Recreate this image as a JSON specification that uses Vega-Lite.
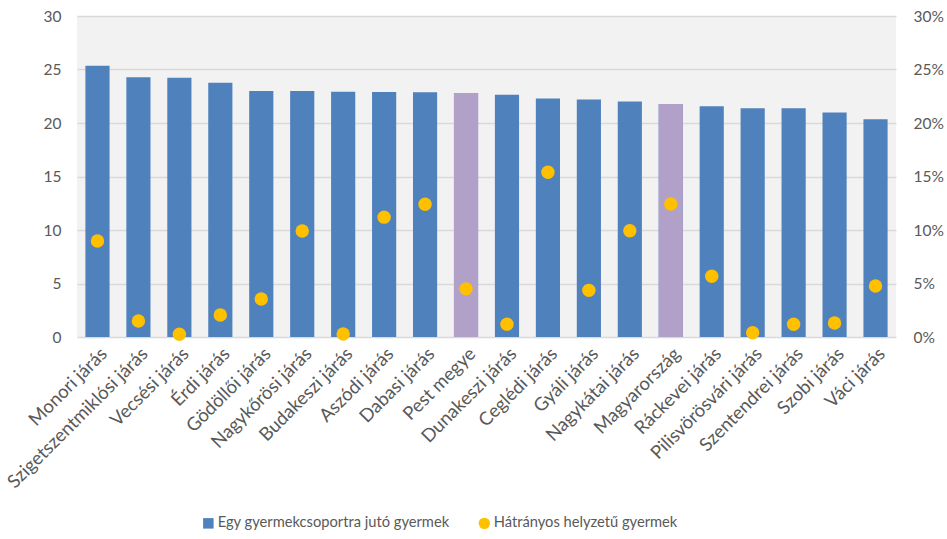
{
  "$schema": "https://vega.github.io/schema/vega-lite/v6.json",
  "width": 819,
  "height": 321,
  "autosize": "none",
  "padding": {"left": 77, "top": 16, "right": 51, "bottom": 202},
  "background": "white",
  "config": {
    "view": {"fill": "#F2F2F2", "stroke": null},
    "font": "Lato",
    "axis": {"labelFont": "Lato", "labelFontSize": 15.5, "labelColor": "#595959", "domain": false, "ticks": false, "gridColor": "#D9D9D9", "gridWidth": 1.3},
    "legend": {"labelFont": "Lato", "labelFontSize": 14.7, "labelColor": "#595959", "labelLimit": 400}
  },
  "data": {
    "values": [
      {"name": "Monori járás", "avg": 25.35, "pct": 0.0897, "type": "jaras"},
      {"name": "Szigetszentmiklósi járás", "avg": 24.27, "pct": 0.015, "type": "jaras"},
      {"name": "Vecsési járás", "avg": 24.24, "pct": 0.0025, "type": "jaras"},
      {"name": "Érdi járás", "avg": 23.77, "pct": 0.0206, "type": "jaras"},
      {"name": "Gödöllői járás", "avg": 22.99, "pct": 0.0355, "type": "jaras"},
      {"name": "Nagykőrösi járás", "avg": 22.98, "pct": 0.099, "type": "jaras"},
      {"name": "Budakeszi járás", "avg": 22.93, "pct": 0.0028, "type": "jaras"},
      {"name": "Aszódi járás", "avg": 22.9, "pct": 0.112, "type": "jaras"},
      {"name": "Dabasi járás", "avg": 22.87, "pct": 0.124, "type": "jaras"},
      {"name": "Pest megye", "avg": 22.8, "pct": 0.045, "type": "total"},
      {"name": "Dunakeszi járás", "avg": 22.65, "pct": 0.012, "type": "jaras"},
      {"name": "Ceglédi járás", "avg": 22.3, "pct": 0.154, "type": "jaras"},
      {"name": "Gyáli járás", "avg": 22.2, "pct": 0.0436, "type": "jaras"},
      {"name": "Nagykátai járás", "avg": 22.0, "pct": 0.0993, "type": "jaras"},
      {"name": "Magyarország", "avg": 21.78, "pct": 0.1243, "type": "total"},
      {"name": "Ráckevei járás", "avg": 21.56, "pct": 0.0567, "type": "jaras"},
      {"name": "Pilisvörösvári járás", "avg": 21.37, "pct": 0.004, "type": "jaras"},
      {"name": "Szentendrei járás", "avg": 21.37, "pct": 0.0119, "type": "jaras"},
      {"name": "Szobi járás", "avg": 20.97, "pct": 0.0131, "type": "jaras"},
      {"name": "Váci járás", "avg": 20.35, "pct": 0.0477, "type": "jaras"}
    ]
  },
  "encoding": {
    "x": {
      "field": "name", "type": "nominal", "sort": null,
      "scale": {"paddingInner": 0.41, "paddingOuter": 0.205},
      "axis": {"title": null, "labelAngle": -45, "labelPadding": 7, "grid": false, "labelLimit": 300, "labelFontSize": 18.5}
    }
  },
  "layer": [
    {
      "mark": {"type": "bar"},
      "encoding": {
        "y": {
          "field": "avg", "type": "quantitative",
          "scale": {"domain": [0, 30]},
          "axis": {"values": [0, 5, 10, 15, 20, 25, 30], "title": null, "labelPadding": 16, "grid": true}
        },
        "color": {
          "datum": "Egy gyermekcsoportra jutó gyermek", "type": "nominal",
          "scale": {"range": ["#4F81BD"]},
          "legend": {"title": null, "orient": "none", "legendX": 124, "legendY": 500, "symbolSize": 110, "symbolType": "square", "labelOffset": 2}
        }
      }
    },
    {
      "transform": [{"filter": "datum.type === 'total'"}],
      "mark": {"type": "bar", "color": "#B1A0C7"},
      "encoding": {
        "y": {"field": "avg", "type": "quantitative", "scale": {"domain": [0, 30]}, "axis": null}
      }
    },
    {
      "mark": {"type": "point", "filled": true, "size": 180, "opacity": 1, "shape": "circle"},
      "encoding": {
        "y": {
          "field": "pct", "type": "quantitative",
          "scale": {"domain": [0, 0.3]},
          "axis": {"orient": "right", "format": ".0%", "values": [0, 0.05, 0.1, 0.15, 0.2, 0.25, 0.3], "grid": false, "title": null, "labelPadding": 17}
        },
        "fill": {
          "datum": "Hátrányos helyzetű gyermek", "type": "nominal",
          "scale": {"range": ["#FFC000"]},
          "legend": {"title": null, "orient": "none", "legendX": 400, "legendY": 500, "symbolSize": 130, "symbolType": "circle", "labelOffset": 2}
        }
      }
    }
  ],
  "resolve": {"scale": {"y": "independent"}}
}
